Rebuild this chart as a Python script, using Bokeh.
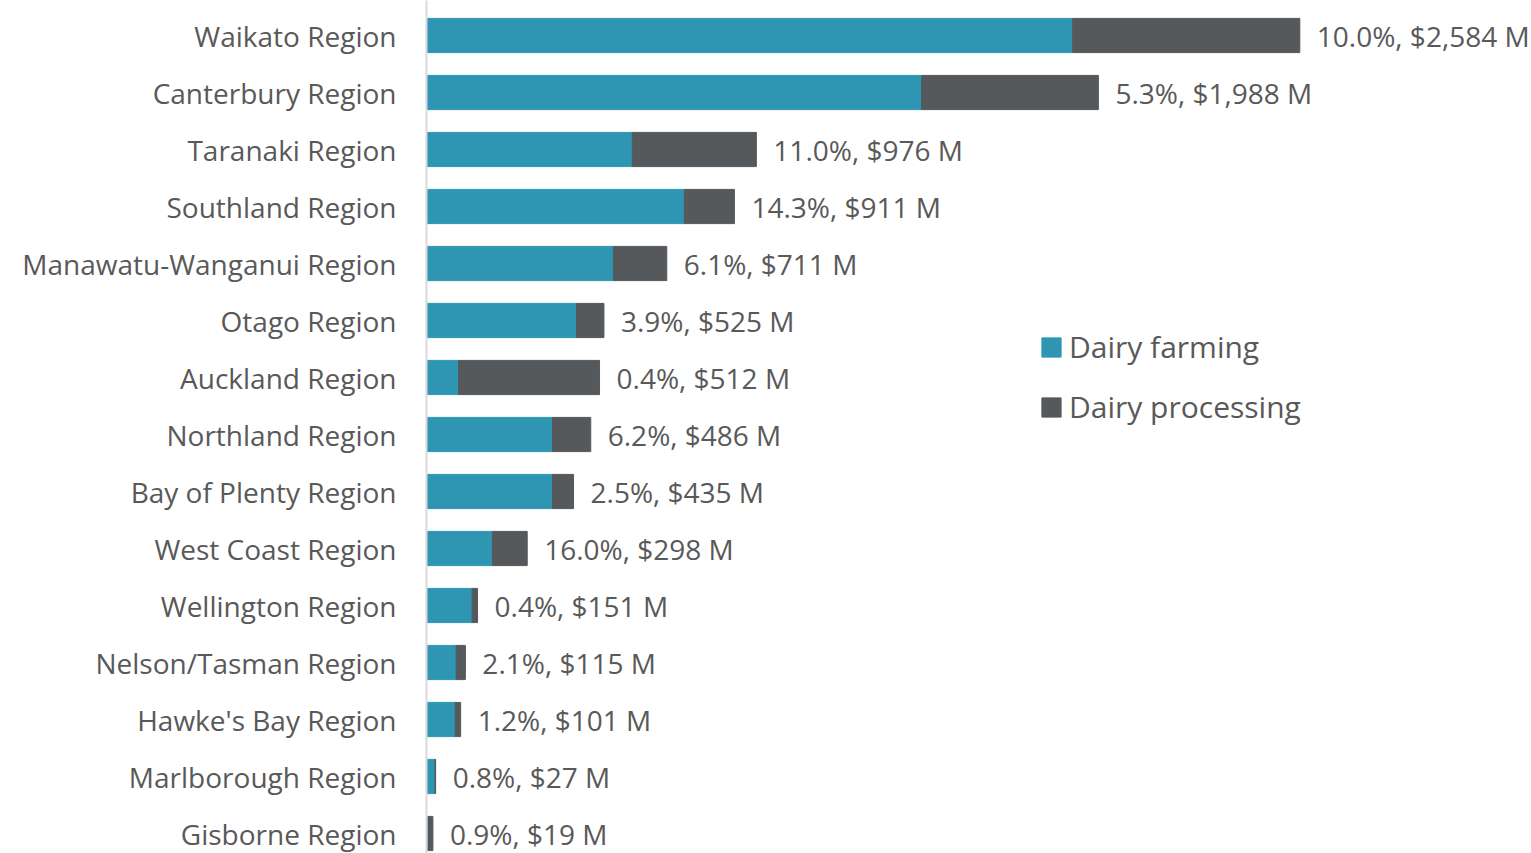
from bokeh.plotting import figure
from bokeh.models import ColumnDataSource, Range1d, FixedTicker, Legend, LegendItem
from bokeh.core.properties import value
from bokeh.embed import file_html
from bokeh.resources import INLINE

regions = ["Waikato Region", "Canterbury Region", "Taranaki Region", "Southland Region",
           "Manawatu-Wanganui Region", "Otago Region", "Auckland Region", "Northland Region",
           "Bay of Plenty Region", "West Coast Region", "Wellington Region",
           "Nelson/Tasman Region", "Hawke's Bay Region", "Marlborough Region", "Gisborne Region"]
farming = [1912, 1465, 609, 763, 553, 444, 95, 373, 373, 195, 135, 88, 85, 25, 6]
processing = [672, 523, 367, 148, 158, 81, 417, 113, 62, 103, 16, 27, 16, 2, 13]
pct = ["10.0%", "5.3%", "11.0%", "14.3%", "6.1%", "3.9%", "0.4%", "6.2%", "2.5%", "16.0%",
       "0.4%", "2.1%", "1.2%", "0.8%", "0.9%"]
totals = [2584, 1988, 976, 911, 711, 525, 512, 486, 435, 298, 151, 115, 101, 27, 19]

FONT = "Open Sans"
TXT = "#595959"
C_FARM = "#2E96B2"
C_PROC = "#55595C"

idx = list(range(len(regions)))
labels = [f"{p}, ${t:,} M" for p, t in zip(pct, totals)]
src = ColumnDataSource(dict(y=idx, farming=farming, processing=processing,
                            total=totals, label=labels))

W, H = 1531, 853
left = 426
scale = 0.33797
top_val = -35 / 57.0
p = figure(width=W, height=H, output_backend="svg", toolbar_location=None,
           x_range=Range1d(0, (W - left) / scale),
           y_range=Range1d(top_val + H / 57.0, top_val),
           min_border_left=left, min_border_right=0, min_border_top=0, min_border_bottom=0)
p.outline_line_color = None
p.xgrid.visible = False
p.ygrid.visible = False
p.xaxis.visible = False

rs = p.hbar_stack(["farming", "processing"], y="y", height=0.6, color=[C_FARM, C_PROC],
                  source=src)

p.text(x="total", y="y", text="label", source=src, x_offset=17, y_offset=0,
       text_align="left", text_baseline="middle", text_font=value(FONT),
       text_font_size="28px", text_color=TXT)

ax = p.yaxis[0]
ax.ticker = FixedTicker(ticks=idx)
ax.major_label_overrides = {i: r for i, r in zip(idx, regions)}
ax.major_tick_line_color = None
ax.minor_tick_line_color = None
ax.axis_line_color = "#D9D9D9"
ax.axis_line_width = 2
ax.major_label_standoff = 24
ax.major_label_text_font = FONT
ax.major_label_text_font_size = "28px"
ax.major_label_text_color = TXT

legend = Legend(items=[LegendItem(label="Dairy farming", renderers=[rs[0]]),
                       LegendItem(label="Dairy processing", renderers=[rs[1]])],
                location=(613, 426), orientation="vertical")
legend.border_line_color = None
legend.background_fill_alpha = 0
legend.padding = 0
legend.margin = 0
legend.glyph_width = 24
legend.glyph_height = 24
legend.label_standoff = 6
legend.spacing = 19
legend.label_text_font = FONT
legend.label_text_font_size = "30px"
legend.label_text_color = TXT
p.add_layout(legend, "center")

open("out.html", "w").write(file_html(p, INLINE))
